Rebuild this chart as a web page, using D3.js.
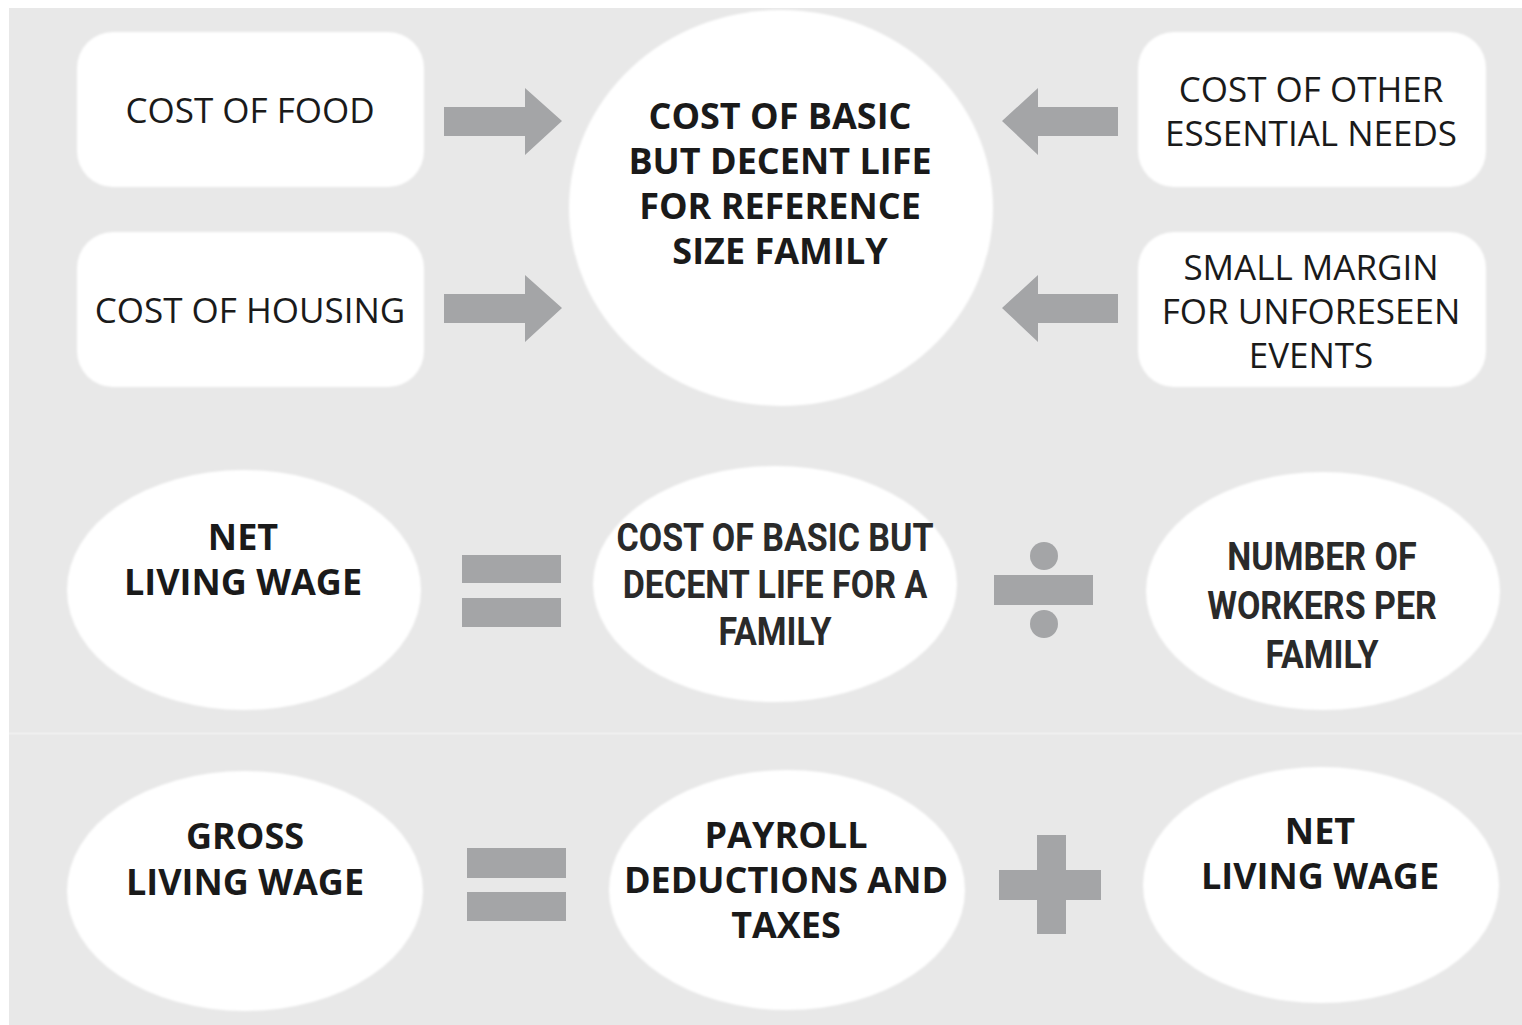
<!DOCTYPE html>
<html>
<head>
<meta charset="utf-8">
<script src="https://cdn.jsdelivr.net/npm/d3@7"></script>
<style>
  body { margin: 0; background: #fff; }
  svg { display: block; }
</style>
</head>
<body>
<svg id="chart" width="1522" height="1025"></svg>
<script>
// labels for each block of the diagram
var inputLabels = [["COST OF FOOD"], ["COST OF HOUSING"]];
var extraLabels = [["COST OF OTHER", "ESSENTIAL NEEDS"], ["SMALL MARGIN", "FOR UNFORESEEN", "EVENTS"]];
var centerLabel = ["COST OF BASIC", "BUT DECENT LIFE", "FOR REFERENCE", "SIZE FAMILY"];
var netRow = [["NET", "LIVING WAGE"], ["COST OF BASIC BUT", "DECENT LIFE FOR A", "FAMILY"], ["NUMBER OF", "WORKERS PER", "FAMILY"]];
var grossRow = [["GROSS", "LIVING WAGE"], ["PAYROLL", "DEDUCTIONS AND", "TAXES"], ["NET", "LIVING WAGE"]];

var svg = d3.select("#chart");
var grey = "#e8e8e8";
var sym = "#a4a5a7";
var ink = "#1a1a1a";

svg.append("rect").attr("x", 9).attr("y", 8).attr("width", 1513).attr("height", 1017).attr("fill", grey);
svg.append("line").attr("x1", 9).attr("x2", 1522).attr("y1", 733.5).attr("y2", 733.5)
   .attr("stroke", "#efefef").attr("stroke-width", 2);

var soft = svg.append("defs").append("filter").attr("id", "soft");
soft.append("feGaussianBlur").attr("stdDeviation", 1.2);

// writes centered multi line text
var writeLines = function(lines, cx, cy, size, gap, weight, family, color, squeeze) {
  var top = cy - (lines.length - 1) * gap / 2;
  lines.forEach(function(l, i) {
    var t = svg.append("text")
      .attr("x", cx).attr("y", top + i * gap)
      .attr("text-anchor", "middle").attr("dy", "0.36em")
      .style("font-family", family).style("font-size", size + "px")
      .style("font-weight", weight).style("fill", color)
      .text(l);
    if (squeeze) {
      t.attr("transform", "translate(" + cx + ",0) scale(" + squeeze + ",1) translate(" + (-cx) + ",0)");
    }
  });
}

// ===== top row =====
var boxY = [32, 232];
inputLabels.forEach(function(lab, i) {
  svg.append("rect").attr("x", 77).attr("y", boxY[i]).attr("width", 347).attr("height", 155)
     .attr("rx", 36).attr("fill", "#fff").attr("filter", "url(#soft)");
  writeLines(lab, 250, boxY[i] + 78, 35, 44, 400, "'Open Sans'", ink);
});
extraLabels.forEach(function(lab, i) {
  svg.append("rect").attr("x", 1138).attr("y", boxY[i]).attr("width", 348).attr("height", 155)
     .attr("rx", 36).attr("fill", "#fff").attr("filter", "url(#soft)");
  writeLines(lab, 1311, boxY[i] + 79, 35, 44, 400, "'Open Sans'", ink);
});

svg.append("ellipse").attr("cx", 781).attr("cy", 208).attr("rx", 212).attr("ry", 198)
   .attr("fill", "#fff").attr("filter", "url(#soft)");
writeLines(centerLabel, 780, 184, 36, 45, 700, "'Open Sans'", ink);

var arrowY = [121, 308];
var arrow = d3.line();
arrowY.forEach(function(y) {
  svg.append("path").attr("fill", sym).attr("d", arrow([
    [444, y - 14], [525, y - 14], [525, y - 33], [562, y], [525, y + 34], [525, y + 15], [444, y + 15]
  ]) + "Z");
  svg.append("path").attr("fill", sym).attr("d", arrow([
    [1118, y - 14], [1038, y - 14], [1038, y - 33], [1002, y], [1038, y + 34], [1038, y + 15], [1118, y + 15]
  ]) + "Z");
});

// ===== net living wage row =====
var netPos = [[244, 590, 177, 120], [775, 584, 182, 118], [1323, 591, 177, 119]];
netRow.forEach(function(lab, i) {
  var p = netPos[i];
  svg.append("ellipse").attr("cx", p[0]).attr("cy", p[1]).attr("rx", p[2]).attr("ry", p[3])
     .attr("fill", "#fff").attr("filter", "url(#soft)");
});
writeLines(netRow[0], 243, 560, 36, 45, 700, "'Open Sans'", ink);
writeLines(netRow[1], 775, 584, 38, 47, 700, "Roboto", "#2a2a2a", 0.895);
writeLines(netRow[2], 1322, 605, 38, 49, 700, "Roboto", "#2a2a2a", 0.895);

svg.append("rect").attr("x", 462).attr("y", 555).attr("width", 99).attr("height", 28).attr("fill", sym);
svg.append("rect").attr("x", 462).attr("y", 598).attr("width", 99).attr("height", 29).attr("fill", sym);
svg.append("rect").attr("x", 994).attr("y", 575).attr("width", 99).attr("height", 30).attr("fill", sym);
svg.append("circle").attr("cx", 1044).attr("cy", 556).attr("r", 14).attr("fill", sym);
svg.append("circle").attr("cx", 1044).attr("cy", 624).attr("r", 14).attr("fill", sym);

// ===== gross living wage row =====
var grossPos = [[245, 891, 178, 120], [787, 890, 178, 120], [1321, 885, 178, 118]];
grossRow.forEach(function(lab, i) {
  var p = grossPos[i];
  svg.append("ellipse").attr("cx", p[0]).attr("cy", p[1]).attr("rx", p[2]).attr("ry", p[3])
     .attr("fill", "#fff").attr("filter", "url(#soft)");
});
writeLines(grossRow[0], 245, 859, 36, 46, 700, "'Open Sans'", ink);
writeLines(grossRow[1], 786, 880, 36, 45, 700, "'Open Sans'", ink);
writeLines(grossRow[2], 1320, 854, 36, 45, 700, "'Open Sans'", ink);

svg.append("rect").attr("x", 467).attr("y", 848).attr("width", 99).attr("height", 30).attr("fill", sym);
svg.append("rect").attr("x", 467).attr("y", 892).attr("width", 99).attr("height", 29).attr("fill", sym);
svg.append("rect").attr("x", 999).attr("y", 870).attr("width", 102).attr("height", 30).attr("fill", sym);
svg.append("rect").attr("x", 1037).attr("y", 835).attr("width", 29).attr("height", 99).attr("fill", sym);
</script>
</body>
</html>
